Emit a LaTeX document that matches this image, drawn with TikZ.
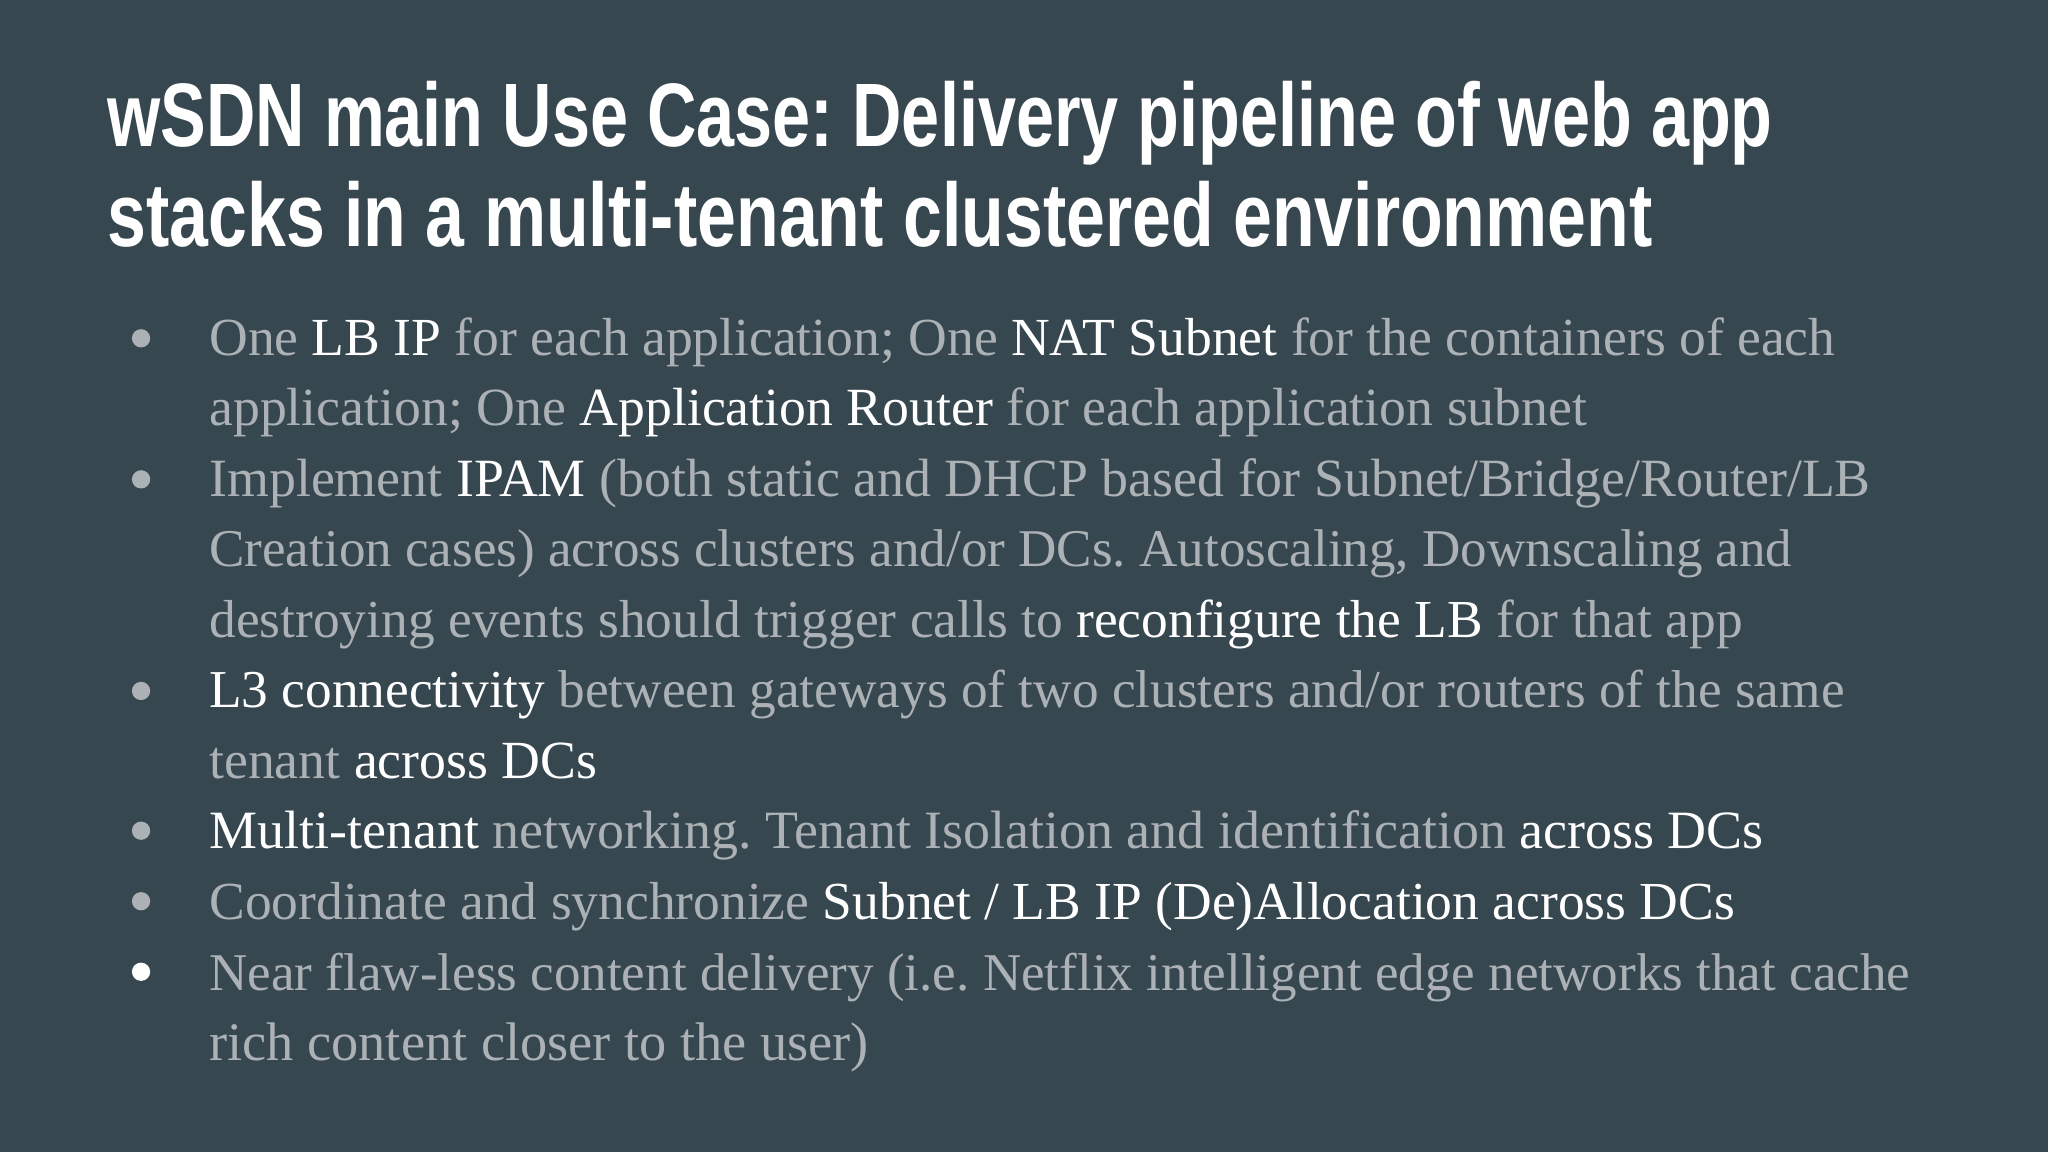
\documentclass[tikz,border=0pt]{standalone}
\usepackage{fontspec}
\usepackage{graphicx}
\setmainfont{Liberation Serif}
\newfontfamily\titlefont{Liberation Sans}
\frenchspacing
\newlength\pxu \setlength{\pxu}{0.75pt}
\definecolor{bgc}{HTML}{37474F}
\definecolor{txg}{HTML}{ABB1B5}
\newcommand{\hl}[1]{\textcolor{white}{#1}}
\tikzset{bodyline/.style={anchor=base west,inner sep=0pt,text=txg,font=\fontsize{27}{30}\selectfont},
titleline/.style={anchor=base west,inner sep=0pt,text=white,font=\titlefont\bfseries\fontsize{50}{55}\selectfont},
bul/.style={circle,fill=txg,inner sep=0pt,minimum size=14\pxu}}
\begin{document}
\begin{tikzpicture}[x=0.75pt,y=-0.75pt]
\fill[bgc] (0,0) rectangle (1568,882);
\useasboundingbox (0,0) rectangle (1568,882);
\node[titleline] (t1) at (82,112) {\resizebox{1275\pxu}{50\pxu}{wSDN main Use Case: Delivery pipeline of web app}};
\node[titleline] (t2) at (82,189) {\resizebox{1183\pxu}{50\pxu}{stacks in a multi-tenant clustered environment}};
\foreach \y/\n in {259/b1,367/b2,529/b3,636/b4,690/b5} \node[bul] (\n) at (108,\y) {};
\node[bul,fill=white] (b6) at (108,744) {};
\node[bodyline] (l1) at (160,272) {\resizebox{1245\pxu}{!}{One \hl{LB IP} for each application; One \hl{NAT Subnet} for the containers of each}};
\node[bodyline] (l2) at (160,326) {\resizebox{1055\pxu}{!}{application; One \hl{Application Router} for each application subnet}};
\node[bodyline] (l3) at (160,380) {\resizebox{1272\pxu}{!}{Implement \hl{IPAM} (both static and DHCP based for Subnet/Bridge/Router/LB}};
\node[bodyline] (l4) at (160,434) {\resizebox{1212\pxu}{!}{Creation cases) across clusters and/or DCs. Autoscaling, Downscaling and}};
\node[bodyline] (l5) at (160,488) {\resizebox{1174\pxu}{!}{destroying events should trigger calls to \hl{reconfigure the LB} for that app}};
\node[bodyline] (l6) at (160,542) {\resizebox{1252\pxu}{!}{\hl{L3 connectivity} between gateways of two clusters and/or routers of the same}};
\node[bodyline] (l7) at (160,596) {\resizebox{297\pxu}{!}{tenant \hl{across DCs}}};
\node[bodyline] (l8) at (160,650) {\resizebox{1190\pxu}{!}{\hl{Multi-tenant} networking. Tenant Isolation and identification \hl{across DCs}}};
\node[bodyline] (l9) at (160,704) {\resizebox{1168\pxu}{!}{Coordinate and synchronize \hl{Subnet / LB IP (De)Allocation across DCs}}};
\node[bodyline] (l10) at (160,758) {\resizebox{1302\pxu}{!}{Near flaw-less content delivery (i.e. Netflix intelligent edge networks that cache}};
\node[bodyline] (l11) at (160,812) {\resizebox{505\pxu}{!}{rich content closer to the user)}};
\end{tikzpicture}
\end{document}
